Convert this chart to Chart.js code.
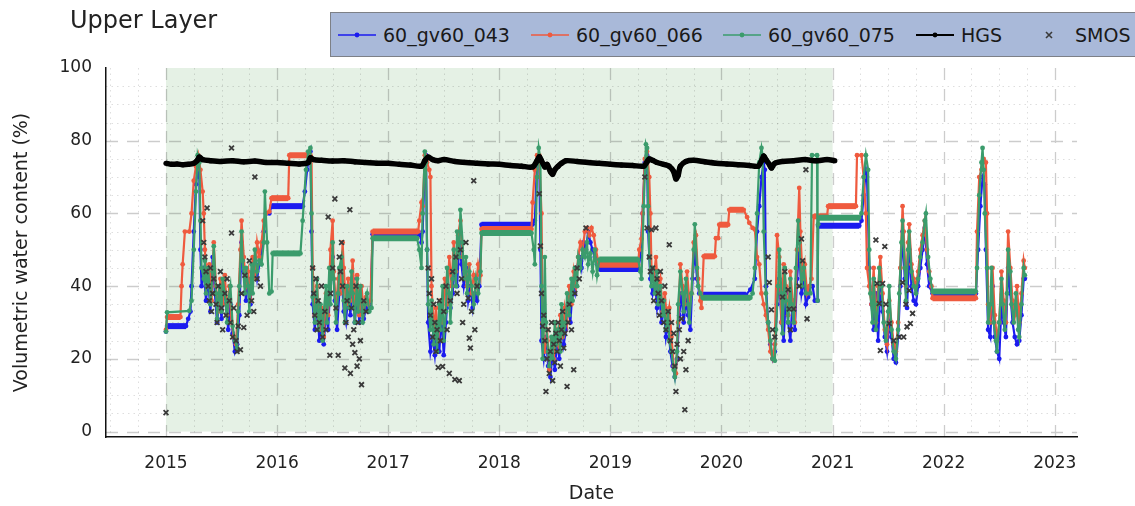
<!DOCTYPE html>
<html>
<head>
<meta charset="utf-8">
<script src="https://cdn.jsdelivr.net/npm/chart.js@4.4.1/dist/chart.umd.min.js"></script>
<style>
  html, body { margin: 0; padding: 0; background: #fff; }
  #wrap { position: relative; width: 1135px; height: 506px; overflow: hidden; font-family: "DejaVu Sans", sans-serif; }
  #chart { position: absolute; left: 0; top: 0; }
  #title { position: absolute; left: 70px; top: 6px; font-size: 24px; color: #222; white-space: nowrap; }
  #legend { position: absolute; left: 330px; top: 12px; width: 830px; height: 45px; box-sizing: border-box;
            background: #a9b9d9; border: 1px solid #7d8087; }
  .item { position: absolute; top: 0; height: 43px; display: flex; align-items: center; font-size: 19px; color: #1a1a1a; white-space: nowrap; }
  .item svg { margin-right: 7px; }
</style>
</head>
<body>
<div id="wrap">
  <canvas id="chart" width="1135" height="506"></canvas>
  <div id="title">Upper Layer</div>
  <div id="legend"></div>
</div>
<script>
// Volumetric water content, upper soil layer: [decimal year, %]
const vwc043 = [
  [2015.00,27.5],[2015.01,29],[2015.18,29],[2015.20,31],[2015.22,33],[2015.23,40],[2015.25,55],[2015.27,68],[2015.29,74],[2015.30,70],
  [2015.31,50],[2015.32,40],[2015.34,45],[2015.36,36],[2015.38,42],[2015.40,33],[2015.42,48],[2015.44,38],[2015.46,30],[2015.48,37],
  [2015.50,31],[2015.52,40],[2015.54,35],[2015.56,28],[2015.58,35],[2015.60,27],[2015.62,22],[2015.64,24],[2015.66,32],[2015.68,52],
  [2015.70,44],[2015.72,36],[2015.74,42],[2015.76,35],[2015.78,44],[2015.80,47],[2015.82,42],[2015.84,46],[2015.86,50],[2015.88,55],
  [2015.90,60],[2015.93,60],[2015.95,62],[2016.23,62],[2016.25,66],[2016.27,72],[2016.29,76],[2016.30,77],[2016.31,55],[2016.32,35],
  [2016.34,28],[2016.36,36],[2016.38,25],[2016.40,30],[2016.42,24],[2016.44,33],[2016.46,28],[2016.48,42],[2016.50,48],[2016.52,36],
  [2016.54,28],[2016.56,38],[2016.58,44],[2016.60,33],[2016.62,30],[2016.64,38],[2016.66,32],[2016.68,42],[2016.70,30],[2016.72,38],
  [2016.74,30],[2016.76,36],[2016.78,31],[2016.80,34],[2016.82,33],[2016.84,34],[2016.86,54.3],[2017.27,54.3],[2017.29,54],[2017.30,52],
  [2017.31,55],[2017.33,74],[2017.34,76],[2017.35,50],[2017.36,30],[2017.38,22],[2017.40,26],[2017.42,21],[2017.44,28],[2017.46,22],
  [2017.48,32],[2017.50,21],[2017.52,30],[2017.54,40],[2017.56,34],[2017.58,38],[2017.60,46],[2017.62,40],[2017.64,52],[2017.66,46],
  [2017.68,40],[2017.70,45],[2017.72,36],[2017.74,40],[2017.76,34],[2017.78,38],[2017.80,36],[2017.82,40],[2017.84,56.9],[2018.29,56.9],
  [2018.30,57],[2018.32,58],[2018.34,74],[2018.36,75],[2018.37,50],[2018.38,25],[2018.40,20],[2018.42,26],[2018.44,18],[2018.46,15],
  [2018.48,22],[2018.50,17],[2018.52,25],[2018.54,20],[2018.56,30],[2018.58,24],[2018.60,28],[2018.62,35],[2018.64,30],[2018.66,40],
  [2018.68,38],[2018.70,45],[2018.72,48],[2018.74,45],[2018.76,52],[2018.78,50],[2018.80,55],[2018.82,52],[2018.84,50],[2018.86,48],
  [2018.88,46],[2018.90,44.7],[2019.25,44.7],[2019.27,48],[2019.29,60],[2019.31,74],[2019.33,76],[2019.34,55],[2019.36,42],[2019.38,38],
  [2019.40,42],[2019.42,34],[2019.44,38],[2019.46,30],[2019.48,35],[2019.50,26],[2019.52,30],[2019.54,22],[2019.56,18],[2019.58,15],
  [2019.60,20],[2019.62,32],[2019.64,38],[2019.66,30],[2019.68,36],[2019.70,32],[2019.72,28],[2019.74,42],[2019.76,50],[2019.78,42],
  [2019.80,38],[2019.83,37.6],[2020.22,37.6],[2020.26,39],[2020.30,42],[2020.32,55],[2020.34,62],[2020.36,70],[2020.38,74],[2020.39,72],
  [2020.40,40],[2020.42,30],[2020.44,24],[2020.46,20],[2020.48,22],[2020.50,35],[2020.52,42],[2020.54,30],[2020.56,25],[2020.58,38],
  [2020.60,30],[2020.62,25],[2020.64,36],[2020.66,28],[2020.68,42],[2020.70,50],[2020.72,38],[2020.74,42],[2020.76,35],[2020.78,37],
  [2020.80,40],[2020.82,40],[2020.84,36],[2020.865,36],[2020.87,56.6],[2021.24,56.6],[2021.26,58],[2021.28,65],[2021.30,72],[2021.31,70],
  [2021.33,45],[2021.35,35],[2021.37,28],[2021.39,38],[2021.41,25],[2021.43,40],[2021.45,33],[2021.47,26],[2021.49,22],[2021.51,30],
  [2021.53,26],[2021.55,20],[2021.57,19],[2021.59,26],[2021.61,40],[2021.63,55],[2021.65,42],[2021.67,34],[2021.69,50],[2021.71,40],
  [2021.73,36],[2021.75,35],[2021.77,40],[2021.79,45],[2021.81,50],[2021.83,56],[2021.85,46],[2021.87,40],[2021.90,38],[2022.29,38],
  [2022.31,50],[2022.33,62],[2022.35,70],[2022.37,68],[2022.38,50],[2022.40,28],[2022.42,26],[2022.44,40],[2022.46,26],[2022.48,22],
  [2022.50,20],[2022.52,35],[2022.54,30],[2022.56,26],[2022.58,45],[2022.60,38],[2022.62,30],[2022.64,26],[2022.66,24],[2022.68,25],
  [2022.70,32],[2022.72,42],[2022.73,42]
];

const vwc066 = [
  [2015.00,28],[2015.01,31.5],[2015.13,31.5],[2015.14,40],[2015.15,46],[2015.17,55],[2015.21,55],[2015.23,60],[2015.25,69],[2015.27,73],
  [2015.29,76],[2015.31,72],[2015.33,66],[2015.34,60],[2015.35,50],[2015.37,40],[2015.39,46],[2015.41,36],[2015.43,52],[2015.45,40],
  [2015.47,33],[2015.49,42],[2015.51,35],[2015.53,43],[2015.55,32],[2015.57,40],[2015.59,30],[2015.61,26],[2015.63,24],[2015.65,35],
  [2015.67,50],[2015.68,58],[2015.70,48],[2015.72,40],[2015.74,44],[2015.76,36],[2015.78,48],[2015.80,42],[2015.82,52],[2015.84,48],
  [2015.86,52],[2015.88,58],[2015.90,60],[2015.93,60.5],[2015.95,64.2],[2016.10,64.2],[2016.11,76],[2016.30,76],[2016.31,75],[2016.32,45],
  [2016.34,32],[2016.36,40],[2016.38,28],[2016.40,34],[2016.42,26],[2016.44,38],[2016.46,32],[2016.48,50],[2016.50,58],[2016.51,44],
  [2016.53,34],[2016.55,42],[2016.57,38],[2016.59,52],[2016.60,45],[2016.62,35],[2016.64,42],[2016.66,36],[2016.68,47],[2016.70,35],
  [2016.72,43],[2016.74,32],[2016.76,40],[2016.78,33],[2016.80,37],[2016.82,35],[2016.84,36],[2016.86,55],[2017.27,55],[2017.28,58],
  [2017.30,63],[2017.31,62],[2017.33,76],[2017.35,74],[2017.37,72],[2017.38,70],[2017.39,40],[2017.41,28],[2017.43,34],[2017.45,25],
  [2017.47,36],[2017.49,30],[2017.51,42],[2017.53,35],[2017.55,48],[2017.57,40],[2017.59,52],[2017.61,44],[2017.63,54],[2017.65,58],
  [2017.67,48],[2017.69,44],[2017.71,40],[2017.73,46],[2017.75,38],[2017.77,43],[2017.79,40],[2017.81,46],[2017.83,43],[2017.84,55.7],
  [2018.29,55.7],[2018.30,63],[2018.32,72],[2018.34,76],[2018.36,76],[2018.38,60],[2018.39,30],[2018.41,22],[2018.43,28],[2018.45,17],
  [2018.47,25],[2018.49,20],[2018.51,28],[2018.53,24],[2018.55,32],[2018.57,26],[2018.59,34],[2018.61,30],[2018.63,40],[2018.65,35],
  [2018.67,44],[2018.69,40],[2018.71,48],[2018.73,52],[2018.75,50],[2018.77,55],[2018.79,56],[2018.81,54],[2018.83,56],[2018.85,54],
  [2018.87,50],[2018.89,47],[2018.90,45.9],[2019.25,45.9],[2019.26,50],[2019.28,53],[2019.29,60],[2019.31,75],[2019.33,77],[2019.35,70],
  [2019.36,60],[2019.37,45],[2019.39,42],[2019.41,48],[2019.43,38],[2019.45,42],[2019.47,33],[2019.49,38],[2019.51,30],[2019.53,34],
  [2019.55,26],[2019.57,18],[2019.59,16],[2019.61,30],[2019.63,46],[2019.65,40],[2019.67,35],[2019.69,44],[2019.71,36],[2019.73,38],
  [2019.75,52],[2019.77,54],[2019.79,42],[2019.81,36],[2019.82,34],[2019.84,48.2],[2019.94,48.2],[2019.95,53.2],[2019.97,53.2],[2019.98,56.9],
  [2020.06,56.9],[2020.07,61],[2020.20,61],[2020.23,59],[2020.25,57.4],[2020.28,56],[2020.30,55.6],[2020.32,48],[2020.34,46],[2020.36,38],
  [2020.38,35],[2020.40,32],[2020.42,28],[2020.44,22],[2020.46,20],[2020.48,24],[2020.50,54],[2020.52,48],[2020.54,30],[2020.56,46],
  [2020.58,40],[2020.60,32],[2020.62,44],[2020.64,36],[2020.66,30],[2020.68,50],[2020.70,67],[2020.71,55],[2020.73,42],[2020.75,46],
  [2020.77,38],[2020.79,40],[2020.81,42],[2020.83,59.2],[2020.95,59.2],[2020.96,62],[2021.21,62],[2021.22,76],[2021.26,76],[2021.28,70],
  [2021.30,60],[2021.31,45],[2021.33,40],[2021.35,35],[2021.37,45],[2021.39,30],[2021.41,40],[2021.43,48],[2021.45,38],[2021.47,28],
  [2021.49,24],[2021.51,36],[2021.53,30],[2021.55,24],[2021.57,22],[2021.59,30],[2021.61,45],[2021.63,62],[2021.64,55],[2021.66,40],
  [2021.68,52],[2021.69,57],[2021.71,46],[2021.73,42],[2021.75,40],[2021.77,44],[2021.79,50],[2021.81,54],[2021.83,58],[2021.85,50],
  [2021.87,44],[2021.89,40],[2021.90,36.7],[2022.29,36.7],[2022.30,55],[2022.32,70],[2022.34,72],[2022.36,75],[2022.38,74],[2022.39,60],
  [2022.40,35],[2022.42,30],[2022.44,45],[2022.46,32],[2022.48,25],[2022.50,30],[2022.52,44],[2022.54,36],[2022.56,30],[2022.58,55],
  [2022.60,45],[2022.62,36],[2022.64,32],[2022.66,40],[2022.68,30],[2022.70,38],[2022.72,47],[2022.73,45]
];

const vwc075 = [
  [2015.00,27.5],[2015.01,32.8],[2015.21,33.2],[2015.23,36],[2015.25,50],[2015.27,66],[2015.285,76],[2015.30,74],[2015.31,58],[2015.32,45],
  [2015.34,42],[2015.35,47],[2015.36,38],[2015.38,45],[2015.40,35],[2015.42,44],[2015.43,51],[2015.45,38],[2015.46,31],[2015.48,40],
  [2015.50,33],[2015.51,42],[2015.53,38],[2015.55,30],[2015.56,36],[2015.58,40],[2015.60,29],[2015.62,25],[2015.64,23],[2015.65,33],
  [2015.66,40],[2015.68,55],[2015.69,47],[2015.71,38],[2015.72,45],[2015.74,40],[2015.75,33],[2015.77,46],[2015.78,38],[2015.80,50],
  [2015.82,44],[2015.84,47],[2015.86,46],[2015.88,52],[2015.89,66],[2015.91,52],[2015.93,38],[2015.95,38.5],[2015.96,49],[2016.21,49],
  [2016.23,58],[2016.26,72],[2016.28,77],[2016.30,78],[2016.31,60],[2016.32,37],[2016.34,30],[2016.36,42],[2016.37,28],[2016.39,35],
  [2016.41,25],[2016.42,33],[2016.44,40],[2016.45,30],[2016.47,45],[2016.48,35],[2016.50,52],[2016.51,42],[2016.53,30],[2016.55,38],
  [2016.56,45],[2016.58,48],[2016.60,36],[2016.61,30],[2016.63,40],[2016.65,34],[2016.67,44],[2016.68,38],[2016.70,30],[2016.72,42],
  [2016.73,33],[2016.75,40],[2016.77,30],[2016.79,35],[2016.81,38],[2016.83,33],[2016.85,34],[2016.86,53.2],[2017.26,53.2],[2017.28,50],
  [2017.30,45],[2017.31,60],[2017.33,77],[2017.34,74],[2017.35,50],[2017.36,35],[2017.38,28],[2017.39,36],[2017.41,24],[2017.43,30],
  [2017.44,22],[2017.46,35],[2017.47,28],[2017.49,40],[2017.50,25],[2017.52,33],[2017.53,45],[2017.55,38],[2017.56,30],[2017.58,42],
  [2017.59,50],[2017.61,40],[2017.62,55],[2017.64,48],[2017.65,61],[2017.67,52],[2017.68,42],[2017.70,48],[2017.71,38],[2017.73,44],
  [2017.75,40],[2017.77,35],[2017.79,42],[2017.81,38],[2017.83,44],[2017.84,54.6],[2018.29,54.6],[2018.31,50],[2018.32,46],[2018.34,70],
  [2018.355,78],[2018.37,75],[2018.38,40],[2018.39,20],[2018.40,28],[2018.41,48],[2018.42,30],[2018.44,22],[2018.45,18],[2018.47,26],
  [2018.48,20],[2018.50,30],[2018.51,24],[2018.53,28],[2018.55,22],[2018.56,35],[2018.58,27],[2018.60,30],[2018.61,38],[2018.63,32],
  [2018.65,42],[2018.66,36],[2018.68,45],[2018.70,40],[2018.71,48],[2018.73,45],[2018.75,50],[2018.77,48],[2018.79,52],[2018.80,46],
  [2018.82,49],[2018.84,44],[2018.86,50],[2018.88,43],[2018.90,47.3],[2019.25,47.3],[2019.27,44],[2019.28,42],[2019.30,62],[2019.32,79],
  [2019.33,78],[2019.34,62],[2019.35,48],[2019.37,40],[2019.38,45],[2019.40,38],[2019.42,44],[2019.43,35],[2019.45,40],[2019.47,32],
  [2019.48,36],[2019.50,28],[2019.52,33],[2019.53,25],[2019.55,22],[2019.57,17],[2019.58,15],[2019.60,22],[2019.61,35],[2019.63,44],
  [2019.65,38],[2019.66,33],[2019.68,42],[2019.70,35],[2019.71,30],[2019.73,38],[2019.75,50],[2019.76,57],[2019.78,45],[2019.79,40],
  [2019.81,38],[2019.83,36.8],[2020.26,36.8],[2020.28,38],[2020.30,45],[2020.32,60],[2020.34,74],[2020.36,78],[2020.37,76],[2020.38,55],
  [2020.40,38],[2020.42,30],[2020.44,25],[2020.46,20],[2020.48,19.5],[2020.49,28],[2020.51,40],[2020.52,50],[2020.54,38],[2020.55,27],
  [2020.57,45],[2020.58,36],[2020.60,30],[2020.62,42],[2020.63,35],[2020.65,30],[2020.67,45],[2020.69,58],[2020.70,52],[2020.72,40],
  [2020.74,45],[2020.76,38],[2020.80,38],[2020.815,76],[2020.86,76],[2020.865,36],[2020.87,57],[2020.88,58.8],[2021.24,58.8],[2021.26,60],
  [2021.28,70],[2021.30,76],[2021.32,72],[2021.33,50],[2021.34,38],[2021.36,30],[2021.37,42],[2021.39,28],[2021.41,35],[2021.42,45],
  [2021.44,40],[2021.46,30],[2021.48,25],[2021.50,33],[2021.51,40],[2021.53,28],[2021.55,22],[2021.57,20],[2021.59,28],[2021.60,38],
  [2021.62,52],[2021.63,58],[2021.65,45],[2021.66,36],[2021.68,50],[2021.69,55],[2021.71,44],[2021.73,40],[2021.75,38],[2021.77,42],
  [2021.79,48],[2021.81,52],[2021.83,58],[2021.84,60],[2021.86,48],[2021.88,42],[2021.90,38.5],[2022.29,38.5],[2022.30,45],[2022.32,65],
  [2022.34,74],[2022.35,78],[2022.36,72],[2022.37,60],[2022.39,45],[2022.40,30],[2022.42,35],[2022.43,45],[2022.45,30],[2022.47,25],
  [2022.48,22],[2022.50,30],[2022.52,42],[2022.53,35],[2022.55,28],[2022.57,38],[2022.58,50],[2022.60,44],[2022.61,35],[2022.63,30],
  [2022.65,38],[2022.67,28],[2022.68,26],[2022.70,35],[2022.72,45],[2022.73,43]
];

const hgs = [
  [2015.00,73.8],[2015.05,73.5],[2015.10,73.6],[2015.15,73.4],[2015.20,73.5],[2015.25,73.8],[2015.28,74.5],[2015.30,75.5],[2015.33,74.8],[2015.40,74.5],
  [2015.50,74.3],[2015.60,74.5],[2015.70,74.2],[2015.80,74.4],[2015.90,74.0],[2016.00,74.0],[2016.10,73.8],[2016.20,73.6],[2016.28,74.0],[2016.30,75.3],
  [2016.33,74.8],[2016.40,74.6],[2016.50,74.4],[2016.60,74.5],[2016.70,74.2],[2016.80,74.0],[2016.90,73.8],[2017.00,73.8],[2017.10,73.5],[2017.20,73.3],
  [2017.30,73.0],[2017.33,74.5],[2017.36,75.5],[2017.40,74.8],[2017.45,74.5],[2017.50,74.8],[2017.60,74.3],[2017.70,74.0],[2017.80,73.8],[2017.90,73.6],
  [2018.00,73.5],[2018.10,73.2],[2018.20,73.0],[2018.30,72.8],[2018.34,74.5],[2018.36,75.6],[2018.38,74.5],[2018.41,72.8],[2018.43,73.5],[2018.46,71.5],
  [2018.48,70.8],[2018.50,72.0],[2018.53,73.0],[2018.56,73.8],[2018.60,74.5],[2018.70,74.3],[2018.80,74.0],[2018.90,73.8],[2019.00,73.5],[2019.10,73.3],
  [2019.20,73.2],[2019.30,73.0],[2019.33,74.2],[2019.35,75.0],[2019.38,74.6],[2019.42,74.0],[2019.48,73.5],[2019.53,73.0],[2019.57,71.5],[2019.59,69.5],
  [2019.61,70.5],[2019.63,73.0],[2019.68,74.3],[2019.75,74.6],[2019.85,74.2],[2019.95,73.8],[2020.05,73.6],[2020.15,73.4],[2020.25,73.2],[2020.33,73.0],
  [2020.36,74.5],[2020.38,75.8],[2020.40,74.8],[2020.43,73.5],[2020.45,72.5],[2020.48,73.8],[2020.55,74.3],[2020.65,74.5],[2020.75,74.8],[2020.85,74.5],
  [2020.95,74.8],[2021.02,74.5]
];

const smos = [
  [2015.00,5.2],
  [2015.33,58],[2015.34,52],[2015.35,48],[2015.36,44],[2015.37,61.5],[2015.38,40],[2015.39,36],[2015.40,45],[2015.41,33],[2015.42,38],
  [2015.43,42],[2015.45,35],[2015.46,30],[2015.47,40],[2015.49,44],[2015.50,34],[2015.51,28],[2015.53,38],[2015.54,32],[2015.55,42],
  [2015.57,36],[2015.58,30],[2015.59,54.6],[2015.59,78],[2015.60,26],[2015.61,34],[2015.63,25],[2015.64,22],[2015.65,29],[2015.67,22.5],
  [2015.68,38],[2015.70,28.6],[2015.71,43],[2015.73,32],[2015.75,47],[2015.77,36],[2015.79,33],[2015.80,70],[2015.82,42],[2015.85,40],
  [2016.32,45],[2016.33,38],[2016.34,32],[2016.35,42],[2016.36,28],[2016.37,36],[2016.38,30],[2016.40,40],[2016.41,26],[2016.43,33],
  [2016.44,28],[2016.46,59],[2016.475,21],[2016.48,38],[2016.50,45],[2016.52,64],[2016.53,34],[2016.55,21],[2016.56,48],[2016.57,44],
  [2016.58,52],[2016.59,40],[2016.61,17.5],[2016.62,30],[2016.63,36],[2016.64,26],[2016.655,61],[2016.66,16],[2016.67,34],[2016.68,24],
  [2016.69,28],[2016.70,21.7],[2016.71,40],[2016.72,18],[2016.73,30],[2016.74,20],[2016.75,25],[2016.76,12.9],[2016.78,36],[2016.80,33],
  [2017.36,45],[2017.37,38],[2017.38,32],[2017.39,42],[2017.40,26],[2017.41,35],[2017.42,30],[2017.43,22],[2017.44,28],[2017.45,17.6],
  [2017.46,36],[2017.47,25],[2017.49,17.9],[2017.50,33],[2017.52,40],[2017.53,28],[2017.55,16],[2017.56,36],[2017.58,44],[2017.60,14.3],
  [2017.61,48],[2017.62,38],[2017.64,14],[2017.65,50],[2017.66,42],[2017.67,30],[2017.68,35],[2017.70,52],[2017.72,36.7],[2017.73,25.7],
  [2017.74,23],[2017.75,33],[2017.77,69],[2017.78,28],[2017.80,40],
  [2018.36,65.4],[2018.37,51],[2018.38,38],[2018.39,29],[2018.40,32],[2018.41,25],[2018.42,11],[2018.43,20],[2018.44,28],[2018.45,16],
  [2018.46,22],[2018.47,30],[2018.48,14],[2018.49,24],[2018.50,19],[2018.51,27],[2018.52,22],[2018.53,30],[2018.54,25],[2018.55,18],
  [2018.56,28],[2018.57,33],[2018.58,23],[2018.59,27],[2018.61,12.4],[2018.62,30],[2018.63,35],[2018.65,28],[2018.67,17],[2018.68,38],
  [2018.70,45],[2018.72,42],[2018.78,56],
  [2019.31,70],[2019.33,56],[2019.35,48],[2019.36,44],[2019.37,55.5],[2019.38,45],[2019.39,36],[2019.41,56],[2019.42,42],[2019.43,38],
  [2019.44,32],[2019.45,44],[2019.46,36],[2019.48,30],[2019.49,40],[2019.50,28],[2019.52,33],[2019.53,51.4],[2019.54,25],[2019.55,30],
  [2019.56,22],[2019.57,27],[2019.58,18],[2019.59,11],[2019.60,24],[2019.62,28],[2019.63,20],[2019.64,31],[2019.66,22],[2019.67,6],
  [2019.68,17],[2019.70,25],
  [2020.42,48],[2020.43,41],[2020.45,33.5],[2020.46,28],[2020.48,26],[2020.55,37],[2020.57,44],[2020.60,39],[2020.61,33.7],[2020.62,28],
  [2020.65,33.7],[2020.70,40],[2020.72,53],[2020.73,47],[2020.76,72],[2020.77,31],
  [2021.39,52.7],[2021.40,40.7],[2021.42,35.2],[2021.43,22.3],[2021.45,40.7],[2021.47,50.9],[2021.48,35],[2021.51,29.7],[2021.55,25],[2021.60,26],
  [2021.63,41],[2021.64,26],[2021.66,35],[2021.67,28.8],[2021.69,38.8],[2021.70,29.7],[2021.72,32.5]
];

const xTicks = [2015, 2016, 2017, 2018, 2019, 2020, 2021, 2022, 2023];
const yTicks = [0, 20, 40, 60, 80, 100];
const shadedPeriod = [2015, 2021];

const series = [
  { label: '60_gv60_043', data: vwc043, color: '#1b1bef', kind: 'model' },
  { label: '60_gv60_066', data: vwc066, color: '#ef5a3e', kind: 'model' },
  { label: '60_gv60_075', data: vwc075, color: '#3b9c6c', kind: 'model' },
  { label: 'HGS', data: hgs, color: '#000000', kind: 'hgs' },
  { label: 'SMOS', data: smos, color: '#3a3a3a', kind: 'obs' }
];

const toXY = arr => arr.map(([x, y]) => ({ x, y }));

// long flat runs are drawn as the thick bands that dense daily markers produce
const flatWidth = ctx => {
  const a = ctx.p0.parsed, b = ctx.p1.parsed;
  return (a.y === b.y && b.x - a.x > 0.05) ? 6 : undefined;
};

const datasets = series.map((s, i) => {
  const base = { label: s.label, data: toXY(s.data), order: series.length - 1 - i };
  if (s.kind === 'model') {
    return Object.assign(base, {
      borderColor: s.color, backgroundColor: s.color,
      borderWidth: 2.2, pointRadius: 2.4, pointBorderWidth: 0,
      pointBackgroundColor: s.color, tension: 0,
      segment: { borderWidth: flatWidth }
    });
  }
  if (s.kind === 'hgs') {
    return Object.assign(base, {
      borderColor: s.color, backgroundColor: s.color,
      borderWidth: 5.5, pointRadius: 2.6, pointBorderWidth: 0,
      pointBackgroundColor: s.color, tension: 0.3
    });
  }
  return Object.assign(base, {
    showLine: false, pointStyle: 'crossRot', pointRadius: 3.4,
    borderColor: s.color, backgroundColor: s.color, pointBorderWidth: 1.8
  });
});

// shaded period plus major (dashed) and minor (dotted) grid
const backdrop = {
  id: 'backdrop',
  beforeDatasetsDraw(chart) {
    const { ctx, chartArea: a, scales: { x, y } } = chart;
    ctx.save();
    ctx.fillStyle = 'rgba(40,140,40,0.12)';
    const sx0 = x.getPixelForValue(shadedPeriod[0]), sx1 = x.getPixelForValue(shadedPeriod[1]);
    const sy0 = y.getPixelForValue(100), sy1 = y.getPixelForValue(0);
    ctx.fillRect(sx0, sy0, sx1 - sx0, sy1 - sy0);

    ctx.lineWidth = 1;
    ctx.strokeStyle = 'rgba(0,0,0,0.13)';
    ctx.setLineDash([1.5, 4]);
    ctx.beginPath();
    for (let v = 5; v < 100; v += 5) {
      if (v % 20 === 0) continue;
      const py = Math.round(y.getPixelForValue(v)) + 0.5;
      ctx.moveTo(a.left, py); ctx.lineTo(a.right, py);
    }
    for (let q = 2014.5; q < 2023.2; q += 0.25) {
      if (Math.abs(q - Math.round(q)) < 1e-6) continue;
      const px = Math.round(x.getPixelForValue(q)) + 0.5;
      ctx.moveTo(px, a.top); ctx.lineTo(px, a.bottom);
    }
    ctx.stroke();

    ctx.lineWidth = 1.3;
    ctx.strokeStyle = 'rgba(0,0,0,0.2)';
    ctx.setLineDash([12, 9]);
    ctx.beginPath();
    yTicks.forEach(v => {
      if (v === 100) return;
      const py = Math.round(y.getPixelForValue(v)) + 0.5;
      ctx.moveTo(a.left, py); ctx.lineTo(a.right, py);
    });
    xTicks.forEach(v => {
      const px = Math.round(x.getPixelForValue(v)) + 0.5;
      ctx.moveTo(px, a.top); ctx.lineTo(px, a.bottom);
    });
    ctx.stroke();
    ctx.restore();
  }
};

const tickFont = { family: 'DejaVu Sans', size: 17 };
const titleFont = { family: 'DejaVu Sans', size: 19 };

new Chart(document.getElementById('chart'), {
  type: 'line',
  data: { datasets },
  plugins: [backdrop],
  options: {
    responsive: false,
    animation: false,
    events: [],
    layout: { padding: { top: 68, right: 58, left: 0, bottom: 0 } },
    plugins: { legend: { display: false }, tooltip: { enabled: false } },
    scales: {
      x: {
        type: 'linear', min: 2014.46, max: 2023.2,
        afterFit: s => { s.height = 69; },
        afterBuildTicks: s => { s.ticks = xTicks.map(v => ({ value: v })); },
        grid: { display: false },
        border: { display: true, color: '#111', width: 1.5 },
        ticks: { font: tickFont, color: '#222', padding: 8, maxRotation: 0, autoSkip: false,
                 callback: v => String(v) },
        title: { display: true, text: 'Date', font: titleFont, color: '#222', padding: { top: 0, bottom: 1 } }
      },
      y: {
        type: 'linear', min: -1.5, max: 100,
        afterFit: s => { s.width = 106; },
        afterBuildTicks: s => { s.ticks = yTicks.map(v => ({ value: v })); },
        grid: { display: false },
        border: { display: true, color: '#111', width: 1.5 },
        ticks: { font: tickFont, color: '#222', padding: 6, callback: v => String(v) },
        title: { display: true, text: 'Volumetric water content (%)', font: titleFont, color: '#222',
                 padding: { top: 11, bottom: 0 } }
      }
    }
  }
});

// legend row, built from the same series definitions
(function buildLegend() {
  const box = document.getElementById('legend');
  const slots = [7, 200, 392, 585, 699];
  series.forEach((s, i) => {
    const item = document.createElement('div');
    item.className = 'item';
    item.style.left = slots[i] + 'px';
    let glyph;
    if (s.kind === 'obs') {
      glyph = `<svg width="38" height="14"><path d="M16 4 L22 10 M22 4 L16 10" stroke="${s.color}" stroke-width="1.6"/></svg>`;
    } else {
      const w = s.kind === 'hgs' ? 2.2 : 1.6;
      glyph = `<svg width="38" height="14"><line x1="0" y1="7" x2="38" y2="7" stroke="${s.color}" stroke-width="${w}"/>` +
              `<circle cx="19" cy="7" r="2.4" fill="${s.color}"/></svg>`;
    }
    item.innerHTML = glyph + '<span></span>';
    item.querySelector('span').textContent = s.label;
    box.appendChild(item);
  });
})();
</script>
</body>
</html>
